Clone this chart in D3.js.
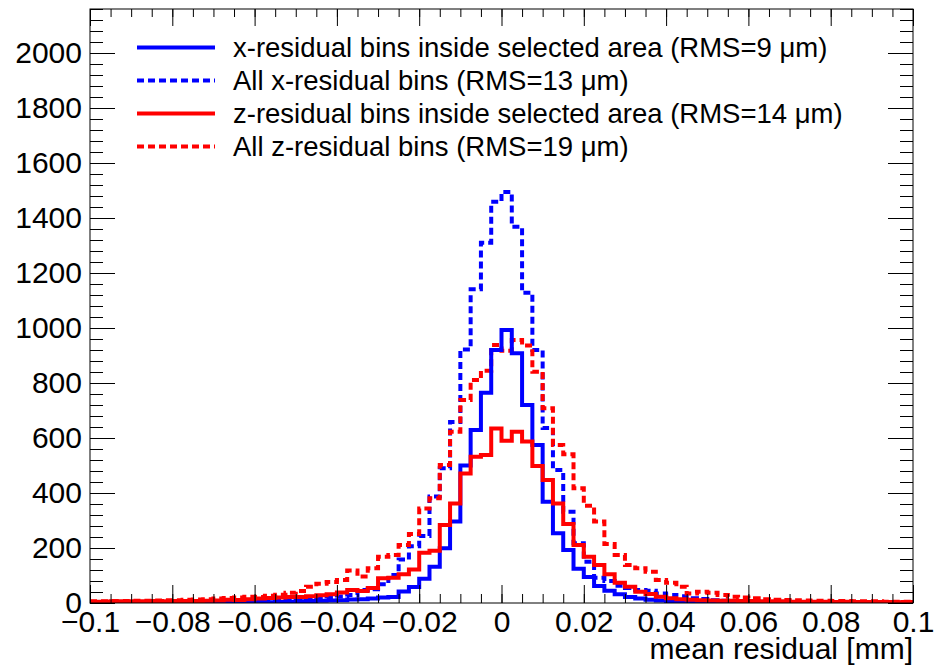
<!DOCTYPE html>
<html>
<head>
<meta charset="utf-8">
<script src="https://cdn.jsdelivr.net/npm/d3@7"></script>
<style>
  body { margin: 0; background: #fff; }
  svg { display: block; font-family: "Liberation Sans", Arial, sans-serif; }
</style>
</head>
<body>
<div id="chart"></div>
<script>
// histogram binning: 80 bins from -0.1 to 0.1 mm
const xMin = -0.1
const xMax = 0.1
const nBins = 80

// bin contents (index 0 = first bin at -0.1)
const xInside = [
    1, 1, 1, 1, 1, 2, 1, 2, 2, 2,
    2, 2, 3, 2, 3, 3, 4, 3, 4, 5,
    6, 7, 8, 9, 10, 13, 14, 16, 20, 22,
    42, 58, 88, 132, 199, 296, 500, 629, 765, 920,
    993, 908, 720, 575, 368, 254, 193, 125, 95, 62,
    45, 32, 22, 16, 12, 9, 7, 5, 4, 3,
    3, 2, 2, 2, 2, 1, 1, 1, 1, 1,
    1, 1, 1, 0, 1, 0, 1, 0, 0, 1
]
const xAll = [
    2, 1, 2, 2, 2, 3, 2, 3, 3, 4,
    4, 4, 5, 5, 6, 6, 7, 8, 9, 10,
    12, 14, 17, 20, 24, 29, 47, 50, 68, 102,
    158, 206, 244, 387, 490, 658, 922, 1141, 1310, 1459,
    1495, 1368, 1128, 920, 636, 484, 332, 217, 150, 92,
    80, 63, 55, 47, 45, 35, 29, 25, 17, 15,
    10, 8, 6, 5, 5, 4, 4, 3, 3, 3,
    2, 3, 2, 2, 2, 2, 1, 2, 1, 1
]
const zInside = [
    5, 5, 6, 5, 6, 6, 7, 6, 7, 7,
    7, 8, 9, 12, 11, 14, 16, 18, 20, 22,
    22, 25, 28, 32, 38, 47, 44, 55, 90, 92,
    105, 122, 183, 190, 284, 362, 471, 532, 538, 635,
    590, 623, 587, 498, 447, 362, 287, 211, 168, 138,
    105, 74, 59, 41, 33, 23, 17, 14, 12, 10,
    9, 8, 8, 7, 7, 6, 6, 6, 5, 5,
    5, 5, 4, 5, 4, 4, 4, 4, 3, 4
]
const zAll = [
    6, 6, 7, 7, 8, 8, 9, 10, 10, 12,
    13, 14, 16, 18, 20, 23, 22, 26, 30, 37,
    44, 59, 70, 76, 84, 118, 96, 126, 168, 175,
    211, 251, 344, 381, 502, 623, 738, 811, 845, 938,
    917, 956, 936, 841, 708, 575, 541, 417, 354, 296,
    215, 175, 138, 126, 114, 84, 74, 59, 35, 41,
    37, 29, 23, 20, 17, 14, 12, 11, 10, 9,
    8, 8, 7, 7, 6, 6, 6, 5, 5, 5
]

// axis ticks
const xTickValues = [-0.1, -0.08, -0.06, -0.04, -0.02, 0, 0.02, 0.04, 0.06, 0.08, 0.1]
const xTickLabels = ['\u22120.1', '\u22120.08', '\u22120.06', '\u22120.04', '\u22120.02', '0', '0.02', '0.04', '0.06', '0.08', '0.1']
const yTickValues = [0, 200, 400, 600, 800, 1000, 1200, 1400, 1600, 1800, 2000]
const yMax = 2160
const xMinorStep = 0.005
const yMinorStep = 40

const legendLabels = [
    'x-residual bins inside selected area (RMS=9 \u03bcm)',
    'All x-residual bins (RMS=13 \u03bcm)',
    'z-residual bins inside selected area (RMS=14 \u03bcm)',
    'All z-residual bins (RMS=19 \u03bcm)'
]
const xTitle = 'mean residual [mm]'

const width = 937
const height = 669
const frameLeft = 90
const frameRight = 913
const frameTop = 9
const frameBottom = 603

const x = d3.scaleLinear().domain([xMin, xMax]).range([frameLeft, frameRight])
const y = d3.scaleLinear().domain([0, yMax]).range([frameBottom, frameTop])
const binWidth = (xMax - xMin) / nBins

const svg = d3.select('#chart')
    .append('svg')
    .attr('width', width)
    .attr('height', height)

svg.append('clipPath')
    .attr('id', 'frame')
    .append('rect')
    .attr('x', frameLeft)
    .attr('y', frameTop)
    .attr('width', frameRight - frameLeft)
    .attr('height', frameBottom - frameTop)

// step outline like ROOT "HIST"
const stepPoints = (vals) => {
    const pts = []
    vals.forEach((v, i) => {
        pts.push([x(xMin + i * binWidth), y(v)])
        pts.push([x(xMin + (i + 1) * binWidth), y(v)])
    })
    return pts
}
const line = d3.line()

const series = [
    { vals: xAll, color: '#0000ff', dash: '7,4' },
    { vals: zAll, color: '#ff0000', dash: '7,4' },
    { vals: xInside, color: '#0000ff', dash: null },
    { vals: zInside, color: '#ff0000', dash: null }
]

const plot = svg.append('g').attr('clip-path', 'url(#frame)')
series.forEach((s) => {
    plot.append('path')
        .attr('d', line(stepPoints(s.vals)))
        .attr('fill', 'none')
        .attr('stroke', s.color)
        .attr('stroke-width', 4)
        .attr('stroke-dasharray', s.dash)
})

// frame
svg.append('rect')
    .attr('x', frameLeft)
    .attr('y', frameTop)
    .attr('width', frameRight - frameLeft)
    .attr('height', frameBottom - frameTop)
    .attr('fill', 'none')
    .attr('stroke', '#000')
    .attr('stroke-width', 1)

const xMinor = d3.range(Math.round((xMax - xMin) / xMinorStep) + 1).map((i) => xMin + i * xMinorStep)
const yMinor = d3.range(yMax / yMinorStep + 1).map((i) => i * yMinorStep)

const addAxis = (axis, tx, ty, labelled) => {
    const g = svg.append('g')
        .attr('transform', `translate(${tx}, ${ty})`)
        .call(axis)
    g.select('.domain').remove()
    g.selectAll('line').attr('stroke', '#000')
    if (labelled) {
        g.selectAll('text')
            .attr('fill', '#000')
            .style('font-size', '30px')
            .style('font-family', '"Liberation Sans", Arial, sans-serif')
    }
    return g
}

// bottom axis
addAxis(d3.axisBottom(x).tickValues(xMinor).tickFormat('').tickSize(-9), 0, frameBottom, false)
addAxis(d3.axisBottom(x).tickValues(xTickValues)
    .tickFormat((d, i) => xTickLabels[i]).tickSize(-18).tickPadding(7.5), 0, frameBottom, true)
// top axis
addAxis(d3.axisTop(x).tickValues(xMinor).tickFormat('').tickSize(-8), 0, frameTop, false)
addAxis(d3.axisTop(x).tickValues(xTickValues).tickFormat('').tickSize(-17), 0, frameTop, false)
// left axis
addAxis(d3.axisLeft(y).tickValues(yMinor).tickFormat('').tickSize(-13), frameLeft, 0, false)
addAxis(d3.axisLeft(y).tickValues(yTickValues).tickFormat(d3.format('d')).tickSize(-25).tickPadding(8), frameLeft, 0, true)
// right axis
addAxis(d3.axisRight(y).tickValues(yMinor).tickFormat('').tickSize(-13), frameRight, 0, false)
addAxis(d3.axisRight(y).tickValues(yTickValues).tickFormat('').tickSize(-25), frameRight, 0, false)

// axis title
svg.append('text')
    .attr('x', frameRight)
    .attr('y', 659)
    .attr('text-anchor', 'end')
    .style('font-size', '30px')
    .text(xTitle)

// legend
const legend = svg.append('g')
const legendOrder = [2, 0, 3, 1]
legendLabels.forEach((label, i) => {
    const s = series[legendOrder[i]]
    const ly = 47.5 + i * 33
    legend.append('line')
        .attr('x1', 137)
        .attr('x2', 215)
        .attr('y1', ly)
        .attr('y2', ly)
        .attr('stroke', s.color)
        .attr('stroke-width', 4)
        .attr('stroke-dasharray', s.dash)
    legend.append('text')
        .attr('x', 233)
        .attr('y', ly + 9.5)
        .style('font-size', '27.5px')
        .text(label)
})
</script>
</body>
</html>
